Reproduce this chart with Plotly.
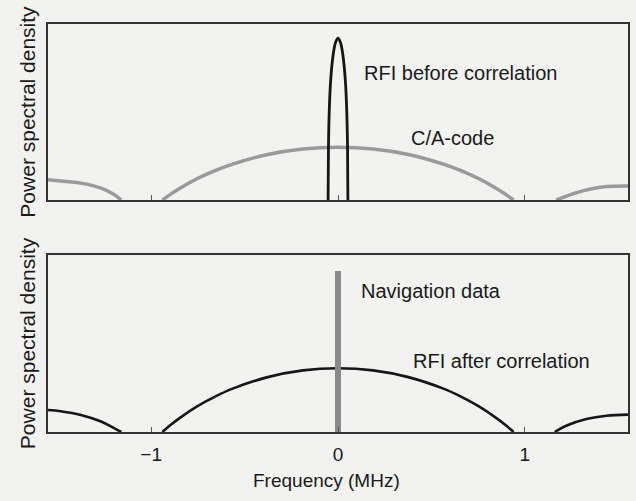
import plotly.graph_objects as go

# ---- data (frequency in MHz, PSD in relative units of the panel height) ----
ca_main_x = [-0.94, -0.893, -0.846, -0.752, -0.658, -0.564, -0.376, -0.188, 0.0,
             0.188, 0.376, 0.564, 0.658, 0.752, 0.846, 0.893, 0.94]
ca_main_y = [0.0, 0.035, 0.067, 0.122, 0.167, 0.204, 0.259, 0.29, 0.30,
             0.29, 0.259, 0.204, 0.167, 0.122, 0.067, 0.035, 0.0]
ca_left_x = [-1.552, -1.484, -1.376, -1.268, -1.203, -1.16]
ca_left_y = [0.115, 0.108, 0.096, 0.067, 0.034, 0.0]
ca_right_x = [1.167, 1.264, 1.351, 1.437, 1.552]
ca_right_y = [0.0, 0.038, 0.063, 0.077, 0.080]

rfi_before_x = [-0.053, -0.051, -0.047, -0.041, -0.034, -0.024, -0.013, 0.0,
                0.013, 0.024, 0.034, 0.041, 0.047, 0.051, 0.053]
rfi_before_y = [0.0, 0.30, 0.50, 0.65, 0.75, 0.84, 0.895, 0.92,
                0.895, 0.84, 0.75, 0.65, 0.50, 0.30, 0.0]

rfi_main_x = ca_main_x
rfi_main_y = [0.0, 0.042, 0.08, 0.146, 0.20, 0.245, 0.31, 0.348, 0.36,
              0.348, 0.31, 0.245, 0.20, 0.146, 0.08, 0.042, 0.0]
rfi_left_x = [-1.552, -1.484, -1.376, -1.268, -1.203, -1.16]
rfi_left_y = [0.124, 0.117, 0.096, 0.059, 0.025, 0.0]
rfi_right_x = [1.16, 1.221, 1.329, 1.437, 1.552]
rfi_right_y = [0.0, 0.035, 0.073, 0.092, 0.098]

nav_x = [0.0, 0.0]
nav_y = [0.0, 0.91]

tick_vals = [-1, 0, 1]
tick_text = ["\u22121", "0", "1"]

BG = "#f2f2f0"
GRAY = "#9a9a9a"
BLACK = "#161616"
FONT = "Liberation Sans, Arial, sans-serif"

fig = go.Figure()

def add(x, y, color, width, xa, ya):
    fig.add_trace(go.Scatter(x=x, y=y, mode="lines", xaxis=xa, yaxis=ya,
                             line=dict(color=color, width=width, shape="spline"),
                             hoverinfo="skip", showlegend=False))

# top panel
add(ca_left_x, ca_left_y, GRAY, 3.5, "x", "y")
add(ca_main_x, ca_main_y, GRAY, 3.5, "x", "y")
add(ca_right_x, ca_right_y, GRAY, 3.5, "x", "y")
add(rfi_before_x, rfi_before_y, BLACK, 2.8, "x", "y")
# bottom panel
add(rfi_left_x, rfi_left_y, BLACK, 2.6, "x2", "y2")
add(rfi_main_x, rfi_main_y, BLACK, 2.6, "x2", "y2")
add(rfi_right_x, rfi_right_y, BLACK, 2.6, "x2", "y2")
fig.add_trace(go.Scatter(x=nav_x, y=nav_y, mode="lines", xaxis="x2", yaxis="y2",
                         line=dict(color="#8a8a8a", width=6),
                         hoverinfo="skip", showlegend=False))

axis_common = dict(range=[-1.552, 1.552], showgrid=False, zeroline=False,
                   showline=True, mirror=True, linecolor="#333333", linewidth=1.6,
                   tickvals=tick_vals, ticktext=tick_text, ticks="inside",
                   ticklen=5, tickcolor="#555555", tickwidth=1)
yaxis_common = dict(range=[0, 1], showgrid=False, zeroline=False, showline=True,
                    mirror=True, linecolor="#333333", linewidth=1.6,
                    showticklabels=False, ticks="")

fig.update_layout(
    width=636, height=501,
    margin=dict(l=48, r=6, t=24, b=69),
    paper_bgcolor=BG, plot_bgcolor=BG,
    font=dict(family=FONT, size=20, color="#1a1a1a"),
    xaxis=dict(axis_common, domain=[0, 1], anchor="y", showticklabels=False),
    yaxis=dict(yaxis_common, domain=[0.5686, 1.0], anchor="x",
               title=dict(text="Power spectral density", standoff=5,
                          font=dict(size=21))),
    xaxis2=dict(axis_common, domain=[0, 1], anchor="y2", showticklabels=True,
                tickfont=dict(size=19), ticklabelstandoff=4),
    yaxis2=dict(yaxis_common, domain=[0.0, 0.4338], anchor="x2",
                title=dict(text="Power spectral density", standoff=5,
                           font=dict(size=21))),
    annotations=[
        dict(text="RFI before correlation", x=0.126, y=0.724, xref="x", yref="y",
             xanchor="left", yanchor="middle", showarrow=False),
        dict(text="C/A-code", x=0.613, y=0.352, xref="x", yref="y",
             xanchor="center", yanchor="middle", showarrow=False),
        dict(text="Navigation data", x=0.112, y=0.797, xref="x2", yref="y2",
             xanchor="left", yanchor="middle", showarrow=False),
        dict(text="RFI after correlation", x=0.388, y=0.40, xref="x2", yref="y2",
             xanchor="left", yanchor="middle", showarrow=False),
        dict(text="Frequency (MHz)", x=0.48, y=-0.118, xref="paper", yref="paper",
             xanchor="center", yanchor="middle", showarrow=False,
             font=dict(size=19)),
    ],
)

fig.write_html("out.html")
